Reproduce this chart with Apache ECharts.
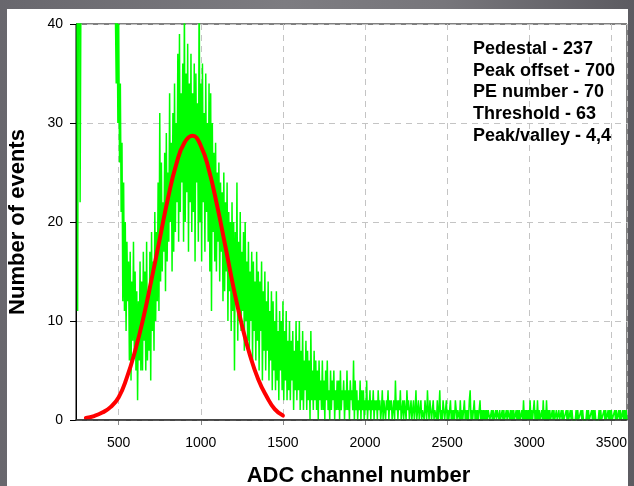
<!DOCTYPE html>
<html>
<head>
<meta charset="utf-8">
<script src="https://cdn.jsdelivr.net/npm/echarts@6/dist/echarts.min.js"></script>
<style>
  html, body { margin: 0; padding: 0; }
  #wrap { position: relative; width: 634px; height: 486px;
    background: linear-gradient(90deg, #68676d 0%, #7d7c81 45%, #77767b 70%, #5c5b61 100%); overflow: hidden; }
  #panel { position: absolute; left: 7px; top: 9px; width: 621px; height: 477px; background: #fff; }
  #chart { position: absolute; left: 0; top: 0; width: 634px; height: 486px; }
</style>
</head>
<body>
<div id="wrap"><div id="panel"></div><div id="chart"></div></div>
<script>
// ---- data ----
const binStart = 240;   // first ADC channel
const binWidth = 5;     // channels per bin
const counts = [
  70, 55, 11, 48, 65, 22, 44, 80, 95, 90,
  100, 120, 110, 98, 105, 96, 90, 88, 85, 82,
  80, 78, 76, 74, 72, 70, 69, 67, 66, 64,
  63, 62, 60, 59, 58, 57, 56, 55, 54, 53,
  52, 51, 50, 49, 48, 47, 46, 45, 41, 34,
  43, 30, 40, 26, 34, 21, 28, 12, 24, 11,
  20, 9, 18, 12, 16, 6, 17, 4, 14, 8,
  18, 7, 15, 5, 13, 2, 12, 6, 16, 5,
  14, 5, 17, 8, 15, 5, 18, 6, 13, 7,
  17, 4, 19, 9, 16, 7, 21, 10, 19, 12,
  24, 11, 31, 14, 26, 15, 22, 17, 27, 13,
  29, 16, 25, 18, 33, 20, 28, 15, 31, 17,
  34, 19, 30, 22, 37, 18, 39, 21, 33, 24,
  36, 18, 42, 20, 35, 23, 38, 17, 34, 22,
  37, 19, 33, 21, 36, 16, 35, 24, 32, 18,
  45, 20, 34, 16, 36, 22, 31, 17, 35, 21,
  30, 18, 34, 15, 33, 11, 30, 19, 27, 16,
  28, 15, 25, 18, 26, 14, 24, 17, 23, 12,
  25, 13, 22, 15, 24, 10, 21, 13, 20, 9,
  22, 11, 20, 5, 19, 12, 24, 8, 18, 10,
  21, 9, 17, 11, 19, 7, 20, 10, 16, 8,
  18, 7, 15, 10, 17, 6, 16, 9, 14, 6,
  17, 8, 15, 5, 14, 9, 16, 4, 13, 7,
  15, 5, 12, 7, 14, 4, 11, 6, 13, 3,
  12, 5, 10, 3, 13, 4, 9, 2, 11, 5,
  10, 3, 12, 2, 9, 4, 11, 2, 8, 3,
  10, 2, 8, 4, 9, 1, 7, 3, 10, 2,
  8, 3, 10, 1, 7, 2, 9, 1, 6, 3,
  8, 1, 7, 2, 6, 0, 9, 2, 5, 1,
  7, 2, 6, 1, 5, 0, 6, 2, 4, 1,
  6, 1, 4, 0, 5, 2, 6, 1, 3, 0,
  5, 1, 4, 2, 5, 0, 3, 1, 4, 1,
  4, 0, 5, 1, 3, 2, 4, 0, 3, 1,
  5, 1, 3, 0, 4, 2, 3, 1, 6, 0,
  4, 1, 3, 0, 2, 1, 4, 0, 3, 1,
  3, 0, 2, 1, 4, 0, 2, 1, 3, 0,
  2, 1, 3, 0, 2, 1, 2, 0, 3, 1,
  2, 0, 1, 3, 0, 2, 1, 0, 2, 1,
  3, 0, 2, 1, 2, 0, 1, 2, 0, 4,
  1, 2, 0, 2, 1, 3, 0, 1, 2, 0,
  2, 1, 0, 3, 1, 2, 0, 1, 2, 0,
  1, 2, 0, 1, 3, 0, 1, 2, 0, 1,
  2, 0, 1, 1, 0, 2, 1, 0, 3, 1,
  0, 2, 1, 0, 1, 2, 0, 1, 1, 0,
  2, 0, 1, 3, 0, 1, 0, 2, 1, 0,
  1, 2, 0, 1, 0, 1, 2, 0, 1, 0,
  1, 0, 2, 1, 0, 1, 1, 0, 2, 0,
  1, 0, 1, 2, 0, 1, 0, 1, 0, 2,
  3, 0, 1, 0, 1, 2, 0, 1, 0, 1,
  0, 1, 2, 0, 1, 0, 1, 0, 1, 0,
  1, 0, 1, 1, 0, 0, 1, 0, 1, 0,
  0, 1, 0, 1, 1, 0, 1, 0, 0, 1,
  0, 1, 0, 0, 1, 0, 1, 1, 0, 1,
  0, 1, 0, 1, 0, 0, 1, 0, 1, 0,
  1, 0, 0, 1, 0, 2, 0, 1, 0, 1,
  0, 1, 0, 2, 0, 1, 0, 1, 2, 0,
  1, 0, 2, 0, 1, 0, 0, 1, 0, 2,
  0, 1, 0, 2, 0, 1, 0, 1, 0, 0,
  1, 0, 1, 0, 0, 1, 0, 0, 1, 0,
  0, 1, 0, 1, 0, 0, 0, 1, 0, 1,
  0, 0, 1, 0, 1, 0, 0, 0, 0, 1,
  0, 1, 0, 0, 0, 1, 0, 1, 0, 0,
  0, 0, 1, 0, 1, 0, 0, 0, 1, 0,
  1, 0, 1, 0, 0, 0, 0, 1, 0, 1,
  0, 0, 0, 1, 0, 1, 0, 0, 1, 0,
  1, 0, 1, 0, 0, 0, 1, 0, 1, 0,
  0, 1, 0, 1, 0, 0, 1, 0, 1, 0,
  1, 0
];
const fitChannels = [300, 350, 400, 450, 500, 550, 600, 650, 700, 750, 800, 850, 900, 950,
  1000, 1050, 1100, 1150, 1200, 1250, 1300, 1350, 1400, 1450, 1500];
const fitValues = [0.2, 0.4, 0.75, 1.3, 2.3, 4.3, 7.0, 10.3, 14.2, 18.3, 22.4, 25.8, 28.0, 28.7,
  27.7, 25.2, 21.6, 17.5, 13.3, 9.6, 6.5, 4.1, 2.4, 1.1, 0.45];
const infoLines = ['Pedestal - 237', 'Peak offset - 700', 'PE number - 70', 'Threshold - 63', 'Peak/valley - 4,4'];
const xName = 'ADC channel number';
const yName = 'Number of events';

// ---- chart ----
const histData = counts.map((c, i) => [binStart + i * binWidth, c]);
const fitData = fitChannels.map((ch, i) => [ch, fitValues[i]]);
const FONT = 'Liberation Sans, Arial, sans-serif';

const chart = echarts.init(document.getElementById('chart'), null, { renderer: 'canvas' });
chart.setOption({
  backgroundColor: 'transparent',
  animation: false,
  grid: { left: 76, top: 24, right: 7, bottom: 66, show: true, borderColor: '#000', borderWidth: 1,
    backgroundColor: 'transparent', containLabel: false, outerBoundsMode: 'none' },
  xAxis: [{
    type: 'value', min: 240, max: 3595, splitNumber: 7,
    name: xName, nameLocation: 'middle', nameGap: 45,
    nameTextStyle: { fontFamily: FONT, fontSize: 22, fontWeight: 'bold', color: '#000', padding: [0, 0, 0, 14] },
    axisLine: { show: false },
    axisTick: { show: true, inside: false, length: 5, lineStyle: { color: '#888' } },
    axisLabel: { showMinLabel: false, showMaxLabel: false, margin: 16, fontFamily: FONT, fontSize: 14, color: '#000',
      formatter: v => String(v) },
    splitLine: { show: true, lineStyle: { color: '#c4c4c4', type: [6, 5], width: 1 } }
  }, {
    type: 'value', min: 240, max: 3595, position: 'bottom', z: 10,
    axisLine: { show: true, onZero: false, lineStyle: { color: '#333', width: 1.5 } },
    axisTick: { show: false }, axisLabel: { show: false }, splitLine: { show: false }
  }],
  yAxis: {
    type: 'value', min: 0, max: 40, interval: 10,
    name: yName, nameLocation: 'middle', nameGap: 47, nameRotate: 90,
    nameTextStyle: { fontFamily: FONT, fontSize: 22, fontWeight: 'bold', color: '#000' },
    axisLine: { show: true, lineStyle: { color: '#000', width: 1 } },
    axisTick: { show: true, length: 6, lineStyle: { color: '#000' } },
    axisLabel: { margin: 13, fontFamily: FONT, fontSize: 14, color: '#000' },
    splitLine: { show: true, lineStyle: { color: '#c4c4c4', type: [6, 5], width: 1 } }
  },
  series: [{
    type: 'line', xAxisIndex: 0, data: histData, showSymbol: false, symbol: 'none',
    lineStyle: { color: '#00ff00', width: 1.5 }, clip: true, z: 2
  }, {
    type: 'line', xAxisIndex: 0, data: fitData, showSymbol: false, symbol: 'none', smooth: true,
    lineStyle: { color: '#ff0000', width: 4, cap: 'round' }, clip: true, z: 3
  }],
  graphic: [{
    type: 'text', left: 473, top: 38, z: 20,
    style: { text: infoLines.join('\n'), fontFamily: FONT, fontSize: 18, fontWeight: 'bold', fill: '#000', lineHeight: 21.7 }
  }]
});
</script>
</body>
</html>
